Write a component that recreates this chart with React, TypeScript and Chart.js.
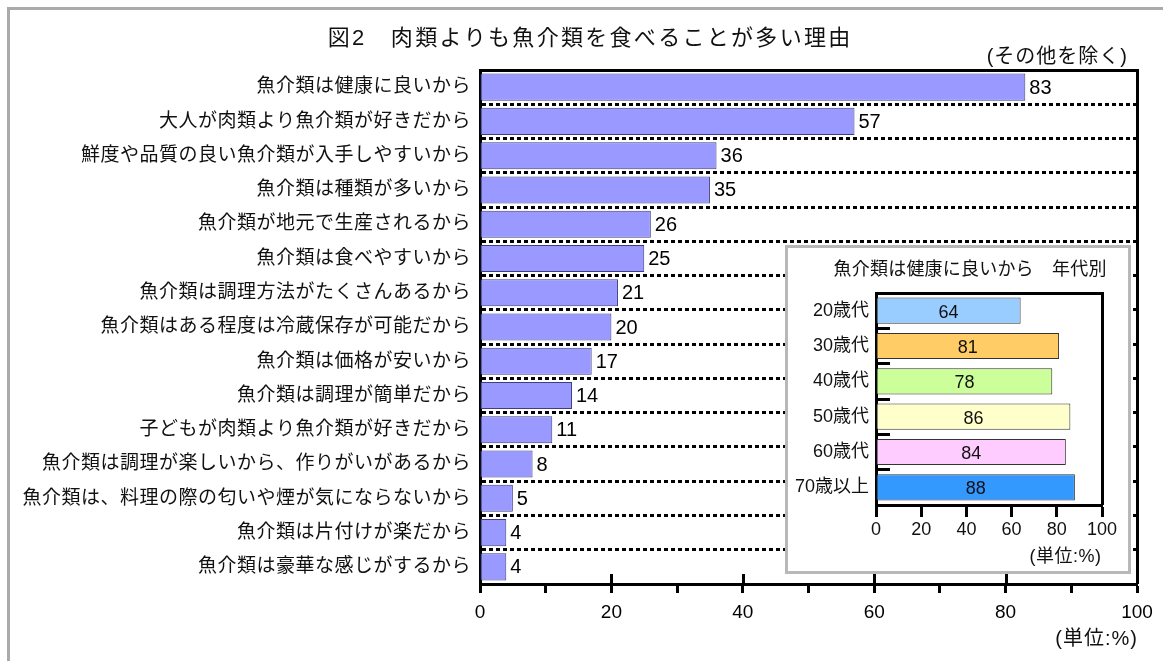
import React, { useEffect, useRef } from "react";
import { Chart, registerables } from "chart.js";

Chart.register(...registerables);

// Reasons for eating seafood more often than meat (top to bottom)
const reasons = [
  "魚介類は健康に良いから",
  "大人が肉類より魚介類が好きだから",
  "鮮度や品質の良い魚介類が入手しやすいから",
  "魚介類は種類が多いから",
  "魚介類が地元で生産されるから",
  "魚介類は食べやすいから",
  "魚介類は調理方法がたくさんあるから",
  "魚介類はある程度は冷蔵保存が可能だから",
  "魚介類は価格が安いから",
  "魚介類は調理が簡単だから",
  "子どもが肉類より魚介類が好きだから",
  "魚介類は調理が楽しいから、作りがいがあるから",
  "魚介類は、料理の際の匂いや煙が気にならないから",
  "魚介類は片付けが楽だから",
  "魚介類は豪華な感じがするから",
];
const reasonValues = [83, 57, 36, 35, 26, 25, 21, 20, 17, 14, 11, 8, 5, 4, 4];

// Inset: "good for health" by age group
const ageGroups = ["20歳代", "30歳代", "40歳代", "50歳代", "60歳代", "70歳以上"];
const ageValues = [64, 81, 78, 86, 84, 88];
const ageColors = ["#99CCFF", "#FFCC66", "#CCFF99", "#FFFFCC", "#FFCCFF", "#3399FF"];

const titleText = "図2　肉類よりも魚介類を食べることが多い理由";
const noteText = "(その他を除く)";
const unitText = "(単位:%)";
const insetTitleText = "魚介類は健康に良いから　年代別";

const FONT = "'Liberation Sans', 'Noto Sans CJK JP', sans-serif";
const INK = "#111111";

function spacedText(
  ctx: CanvasRenderingContext2D,
  text: string,
  x: number,
  y: number,
  size: number,
  align: CanvasTextAlign,
  spacing: number
) {
  ctx.save();
  (ctx as any).letterSpacing = `${spacing}px`;
  ctx.font = `${size}px ${FONT}`;
  ctx.fillStyle = INK;
  ctx.textAlign = align;
  ctx.textBaseline = "middle";
  // trailing spacing is included in the advance; shift to keep the glyphs in place
  const shift = align === "center" ? spacing / 2 : align === "right" ? spacing : 0;
  ctx.fillText(text, x + shift, y);
  ctx.restore();
}

function frameLines(chart: any) {
  const { ctx, chartArea } = chart;
  ctx.save();
  ctx.strokeStyle = "#000";
  ctx.lineWidth = 3;
  ctx.beginPath();
  ctx.moveTo(chartArea.left, chartArea.top + 0.5);
  ctx.lineTo(chartArea.right + 1.5, chartArea.top + 0.5);
  ctx.moveTo(chartArea.right + 0.5, chartArea.top - 1);
  ctx.lineTo(chartArea.right + 0.5, chartArea.bottom);
  ctx.stroke();
  ctx.restore();
}

const mainDecor = {
  id: "mainDecor",
  beforeDraw(chart: any) {
    (chart.ctx as any).letterSpacing = "0.5px";
  },
  afterDatasetsDraw(chart: any) {
    const ctx = chart.ctx;
    const meta = chart.getDatasetMeta(0);
    ctx.save();
    (ctx as any).letterSpacing = "0px";
    ctx.font = `20px ${FONT}`;
    ctx.fillStyle = "#000";
    ctx.textAlign = "left";
    ctx.textBaseline = "middle";
    meta.data.forEach((el: any, i: number) => {
      ctx.fillText(String(reasonValues[i]), el.x + 4, el.y + 1);
    });
    ctx.restore();
    (ctx as any).letterSpacing = "0px";
  },
  afterDraw(chart: any) {
    const { ctx, chartArea } = chart;
    const xs = chart.scales.x;
    frameLines(chart);
    // major ticks also reach into the plot
    ctx.save();
    ctx.strokeStyle = "#000";
    ctx.lineWidth = 3;
    ctx.beginPath();
    for (let v = 20; v <= 100; v += 20) {
      const px = Math.round(xs.getPixelForValue(v)) + 0.5;
      ctx.moveTo(px, chartArea.bottom);
      ctx.lineTo(px, chartArea.bottom - 10);
    }
    ctx.stroke();
    ctx.restore();
    spacedText(ctx, titleText, 589, 38.5, 22, "center", 2.3);
    spacedText(ctx, noteText, 1127, 57, 20, "right", 1);
    spacedText(ctx, unitText, 1137, 639, 20, "right", 1);
  },
};

const insetDecor = {
  id: "insetDecor",
  beforeDraw(chart: any) {
    (chart.ctx as any).letterSpacing = "0px";
  },
  afterDatasetsDraw(chart: any) {
    const ctx = chart.ctx;
    const meta = chart.getDatasetMeta(0);
    ctx.save();
    ctx.font = `18px ${FONT}`;
    ctx.fillStyle = INK;
    ctx.textAlign = "center";
    ctx.textBaseline = "middle";
    meta.data.forEach((el: any, i: number) => {
      ctx.fillText(String(ageValues[i]), (el.x + el.base) / 2, el.y + 2);
    });
    ctx.restore();
  },
  afterDraw(chart: any) {
    frameLines(chart);
    spacedText(chart.ctx, insetTitleText, 182, 22, 18, "center", 0.2);
    spacedText(chart.ctx, unitText, 313, 309, 18, "right", 0.5);
  },
};

export default function App() {
  const mainRef = useRef<HTMLCanvasElement>(null);
  const insetRef = useRef<HTMLCanvasElement>(null);

  useEffect(() => {
    const main = new Chart(mainRef.current as HTMLCanvasElement, {
      type: "bar",
      data: {
        labels: reasons,
        datasets: [
          {
            data: reasonValues,
            backgroundColor: "#9999FF",
            borderColor: "#3d3d80",
            borderWidth: 1,
            borderSkipped: false,
            barPercentage: 0.79,
            categoryPercentage: 1,
          },
        ],
      },
      options: {
        indexAxis: "y",
        responsive: false,
        animation: false,
        devicePixelRatio: 1,
        layout: { padding: { top: 70, right: 26, left: 0, bottom: 0 } },
        plugins: {
          legend: { display: false },
          tooltip: { enabled: false },
          title: { display: false },
        },
        scales: {
          x: {
            type: "linear",
            min: 0,
            max: 100,
            afterFit: (s: any) => {
              s.height = 77;
            },
            ticks: {
              stepSize: 10,
              autoSkip: false,
              maxRotation: 0,
              padding: 8,
              z: 1,
              color: "#000",
              font: { family: FONT, size: 19 },
              callback: (v: any) => (Number(v) % 20 === 0 ? String(v) : ""),
            },
            grid: {
              drawOnChartArea: false,
              drawTicks: true,
              tickLength: 9,
              tickWidth: 3,
              tickColor: "#000",
            },
            border: { display: true, color: "#000", width: 3 },
          },
          y: {
            afterFit: (s: any) => {
              s.width = 480;
            },
            ticks: {
              padding: 9,
              autoSkip: false,
              color: INK,
              font: { family: FONT, size: 19 },
            },
            grid: {
              offset: true,
              drawTicks: false,
              lineWidth: 3,
              color: (c: any) =>
                c.index === 0 || c.index === reasons.length ? "rgba(0,0,0,0)" : "#000",
            },
            border: { display: true, color: "#000", width: 3, dash: [4, 3] },
          },
        },
      },
      plugins: [mainDecor],
    } as any);

    const inset = new Chart(insetRef.current as HTMLCanvasElement, {
      type: "bar",
      data: {
        labels: ageGroups,
        datasets: [
          {
            data: ageValues,
            backgroundColor: ageColors,
            borderColor: "#333333",
            borderWidth: 1,
            borderSkipped: false,
            barPercentage: 0.74,
            categoryPercentage: 1,
          },
        ],
      },
      options: {
        indexAxis: "y",
        responsive: false,
        animation: false,
        devicePixelRatio: 1,
        layout: { padding: { top: 45, right: 26, left: 0, bottom: 0 } },
        plugins: {
          legend: { display: false },
          tooltip: { enabled: false },
          title: { display: false },
        },
        scales: {
          x: {
            type: "linear",
            min: 0,
            max: 100,
            afterFit: (s: any) => {
              s.height = 66;
            },
            ticks: {
              stepSize: 20,
              autoSkip: false,
              maxRotation: 0,
              padding: 2,
              z: 1,
              color: INK,
              font: { family: FONT, size: 18 },
            },
            grid: {
              drawOnChartArea: false,
              drawTicks: true,
              tickLength: 12,
              tickWidth: 3,
              tickColor: "#000",
            },
            border: { display: true, color: "#000", width: 3 },
          },
          y: {
            afterFit: (s: any) => {
              s.width = 88;
            },
            ticks: {
              padding: 21,
              autoSkip: false,
              color: INK,
              font: { family: FONT, size: 18 },
            },
            grid: {
              offset: true,
              drawOnChartArea: false,
              drawTicks: true,
              tickLength: -14,
              tickWidth: 3,
              tickColor: "#000",
            },
            border: { display: true, color: "#000", width: 3 },
          },
        },
      },
      plugins: [insetDecor],
    } as any);

    return () => {
      main.destroy();
      inset.destroy();
    };
  }, []);

  return (
    <>
      <div
        style={{
          position: "absolute",
          left: 7,
          top: 7,
          width: 1156,
          height: 654,
          boxSizing: "border-box",
          borderLeft: "3px solid #aaaaaa",
          borderTop: "3px solid #aaaaaa",
        }}
      />
      <canvas
        ref={mainRef}
        width={1163}
        height={661}
        style={{ position: "absolute", left: 0, top: 0, width: 1163, height: 661 }}
      />
      <div
        style={{
          position: "absolute",
          left: 785,
          top: 245,
          width: 346,
          height: 329,
          boxSizing: "border-box",
          border: "3px solid #b8b8b8",
          background: "#ffffff",
        }}
      />
      <canvas
        ref={insetRef}
        width={340}
        height={323}
        style={{ position: "absolute", left: 788, top: 248, width: 340, height: 323 }}
      />
    </>
  );
}
